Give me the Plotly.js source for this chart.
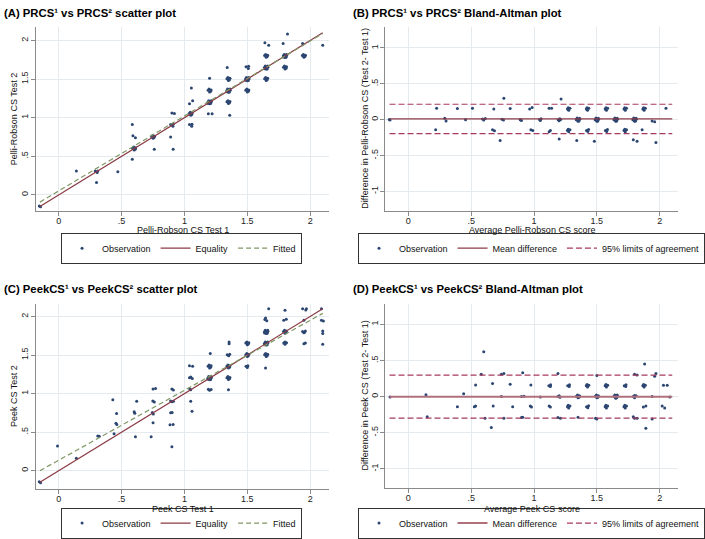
<!DOCTYPE html>
<html>
<head>
<meta charset="utf-8">
<script src="https://cdn.plot.ly/plotly-3.0.1.min.js"></script>
<style>
html, body { margin: 0; padding: 0; background: #fff; }
#chart { width: 705px; height: 539px; }
</style>
</head>
<body>
<div id="chart"></div>
<script>
// (A) Pelli-Robson: [test 1, test 2] per eye, jittered as plotted
var prcsScatter = [
  [-0.155,-0.145],[-0.145,-0.155],[0.14,0.31],[0.29,0.31],[0.305,0.29],[0.31,0.31],[0.30,0.16],[0.47,0.30],
  [0.585,0.46],[0.588,0.605],[0.6,0.582],[0.612,0.61],[0.596,0.62],[0.608,0.592],[0.59,0.765],[0.61,0.74],
  [0.585,0.91],[0.76,0.59],[0.738,0.755],[0.75,0.732],[0.762,0.76],[0.746,0.77],[0.758,0.742],
  [0.91,0.59],[0.89,0.75],[0.89,0.91],[0.908,0.888],[0.91,0.915],[0.90,1.06],[0.92,1.055],
  [1.04,0.91],[1.058,0.888],[1.06,0.915],[1.038,1.055],[1.05,1.032],[1.062,1.06],[1.046,1.07],[1.058,1.042],
  [1.065,1.22],[1.04,1.18],[1.055,1.385],[1.19,1.05],[1.22,1.05],
  [1.186,1.2],[1.2,1.18],[1.214,1.205],[1.193,1.22],[1.208,1.182],[1.2,1.208],[1.188,1.185],[1.212,1.22],
  [1.188,1.355],[1.2,1.332],[1.212,1.36],[1.196,1.37],[1.208,1.342],[1.2,1.51],[1.36,1.03],
  [1.338,1.205],[1.35,1.182],[1.362,1.21],[1.346,1.22],[1.358,1.192],
  [1.336,1.35],[1.35,1.33],[1.364,1.355],[1.343,1.37],[1.358,1.332],[1.35,1.358],[1.338,1.335],[1.362,1.37],
  [1.338,1.505],[1.35,1.482],[1.362,1.51],[1.346,1.52],[1.358,1.492],[1.34,1.65],
  [1.488,1.355],[1.5,1.332],[1.512,1.36],[1.496,1.37],[1.508,1.342],
  [1.486,1.5],[1.5,1.48],[1.514,1.505],[1.493,1.52],[1.508,1.482],[1.5,1.508],[1.488,1.485],[1.512,1.52],
  [1.49,1.66],[1.508,1.638],[1.51,1.665],
  [1.638,1.505],[1.65,1.482],[1.662,1.51],[1.646,1.52],[1.658,1.492],
  [1.636,1.65],[1.65,1.63],[1.664,1.655],[1.643,1.67],[1.658,1.632],[1.65,1.658],[1.638,1.635],[1.662,1.67],
  [1.638,1.805],[1.65,1.782],[1.662,1.81],[1.646,1.82],[1.658,1.792],[1.64,1.97],[1.67,1.94],
  [1.788,1.655],[1.8,1.632],[1.812,1.66],[1.796,1.67],[1.808,1.642],
  [1.786,1.8],[1.8,1.78],[1.814,1.805],[1.793,1.82],[1.808,1.782],[1.8,1.808],[1.788,1.785],[1.812,1.82],
  [1.785,1.96],[1.82,2.085],[1.938,1.805],[1.95,1.782],[1.962,1.81],[1.946,1.82],[1.958,1.792],
  [1.94,1.96],[2.10,1.94]
];
// (B) Pelli-Robson: [average, difference]
var prcsBland = [
  [-0.146,-0.005],[-0.152,0.004],[0.29,0.02],[0.30,-0.02],[0.455,0.0],[0.59,0.01],[0.60,-0.005],[0.612,0.015],
  [0.745,0.005],[0.757,-0.006],[0.89,0.0],[0.9,-0.01],[1.044,0.002],[1.056,0.012],[1.05,-0.012],
  [1.192,0.0],[1.205,0.014],[1.2,-0.014],[1.212,0.002],
  [1.336,0],[1.35,-0.022],[1.364,0.005],[1.343,0.022],[1.358,-0.018],[1.35,0.006],[1.362,0.02],
  [1.486,0],[1.5,-0.022],[1.514,0.005],[1.493,0.022],[1.508,-0.018],[1.5,0.006],[1.512,0.02],
  [1.636,0],[1.65,-0.022],[1.664,0.005],[1.643,0.022],[1.658,-0.018],[1.65,0.006],[1.662,0.02],
  [1.786,0],[1.8,-0.022],[1.814,0.005],[1.793,0.022],[1.808,-0.018],[1.8,0.006],[1.812,0.02],
  [1.94,-0.02],[1.96,-0.03],
  [0.225,0.16],[0.39,0.155],[0.51,0.16],[0.68,0.15],[0.81,0.155],[0.965,0.15],[0.985,0.17],[1.12,0.16],[1.14,0.16],
  [1.266,0.15],[1.276,0.132],[1.286,0.158],[1.272,0.168],[1.416,0.15],[1.426,0.132],[1.436,0.158],[1.422,0.168],
  [1.566,0.15],[1.576,0.132],[1.586,0.158],[1.572,0.168],[1.716,0.15],[1.726,0.132],[1.736,0.158],[1.722,0.168],
  [1.866,0.15],[1.876,0.132],[1.886,0.158],[1.872,0.168],[2.05,0.16],
  [0.217,-0.14],[0.67,-0.14],[0.685,-0.155],[0.975,-0.14],[0.99,-0.15],[1.12,-0.17],[1.13,-0.15],
  [1.266,-0.15],[1.276,-0.168],[1.286,-0.142],[1.272,-0.132],[1.418,-0.15],[1.428,-0.165],[1.434,-0.138],
  [1.568,-0.15],[1.578,-0.165],[1.584,-0.138],[1.716,-0.15],[1.726,-0.168],[1.736,-0.142],[1.722,-0.132],
  [1.86,-0.14],
  [0.76,0.30],[1.215,0.29],[0.73,-0.29],[1.20,-0.27],[1.34,-0.29],[1.48,-0.30],[1.79,-0.28],[1.82,-0.30],[1.97,-0.32]
];
// (C) Peek: [test 1, test 2]
var peekScatter = [
  [-0.155,-0.145],[-0.145,-0.155],[-0.01,0.32],[0.14,0.16],[0.31,0.45],[0.322,0.445],[0.44,0.48],
  [0.455,0.615],[0.462,0.6],[0.46,0.74],[0.43,0.92],[0.61,0.44],[0.60,0.765],[0.605,0.745],[0.62,0.90],
  [0.735,0.44],[0.75,0.62],[0.745,0.755],[0.752,0.735],[0.748,0.905],[0.76,0.89],[0.75,1.06],[0.77,1.065],
  [0.9,0.31],[0.885,0.595],[0.91,0.6],[0.89,0.75],[0.902,0.755],[0.89,0.905],[0.9,0.895],[0.912,0.9],
  [0.9,1.06],[0.912,1.045],[1.06,0.77],[1.05,0.9],[1.05,1.05],[1.042,1.058],
  [1.04,1.205],[1.05,1.215],[1.062,1.195],[1.04,1.36],[1.065,1.355],[1.19,1.055],[1.2,1.042],[1.212,1.052],
  [1.186,1.2],[1.2,1.18],[1.214,1.205],[1.193,1.22],[1.208,1.182],[1.2,1.208],[1.188,1.185],[1.212,1.22],
  [1.188,1.355],[1.2,1.332],[1.212,1.36],[1.196,1.37],[1.208,1.342],[1.205,1.52],[1.35,1.05],
  [1.338,1.205],[1.35,1.182],[1.362,1.21],[1.346,1.22],[1.358,1.192],
  [1.338,1.355],[1.35,1.332],[1.362,1.36],[1.346,1.37],[1.358,1.342],[1.35,1.35],
  [1.34,1.505],[1.352,1.49],[1.36,1.51],[1.355,1.67],[1.355,1.645],[1.49,1.355],[1.505,1.362],[1.5,1.338],
  [1.488,1.505],[1.5,1.482],[1.512,1.51],[1.496,1.52],[1.508,1.492],
  [1.488,1.655],[1.5,1.632],[1.512,1.66],[1.496,1.67],[1.508,1.642],[1.645,1.33],
  [1.638,1.505],[1.65,1.482],[1.662,1.51],[1.646,1.52],[1.658,1.492],
  [1.636,1.65],[1.65,1.63],[1.664,1.655],[1.643,1.67],[1.658,1.632],[1.65,1.658],[1.638,1.635],[1.662,1.67],
  [1.636,1.8],[1.65,1.78],[1.664,1.805],[1.643,1.82],[1.658,1.782],[1.65,1.808],[1.638,1.785],[1.662,1.82],
  [1.64,1.96],[1.655,1.945],[1.645,1.98],[1.67,2.1],
  [1.79,1.655],[1.8,1.638],[1.812,1.66],[1.8,1.668],
  [1.788,1.805],[1.8,1.782],[1.812,1.81],[1.796,1.82],[1.808,1.792],[1.79,1.95],[1.81,1.965],[1.80,2.08],
  [1.95,1.645],[1.962,1.655],[1.94,1.805],[1.95,1.788],[1.962,1.812],[1.955,1.795],[1.95,1.95],
  [1.94,2.10],[1.97,2.10],[1.965,2.085],[2.1,1.64],[2.1,1.81],[2.1,1.78],[2.09,1.95],[2.105,1.94],[2.09,2.1]
];
// (D) Peek: [average, difference]
var peekBland = [
  [-0.146,-0.005],[0.14,0.025],[0.44,0.04],[0.74,0.0],[0.90,0.0],[0.92,0.005],[1.05,-0.005],
  [1.19,0.0],[1.2,0.012],[1.206,-0.01],
  [1.338,0.005],[1.35,-0.018],[1.362,0.01],[1.346,0.02],[1.358,-0.008],
  [1.488,0.005],[1.5,-0.018],[1.512,0.01],[1.496,0.02],[1.508,-0.008],
  [1.636,0],[1.65,-0.022],[1.664,0.005],[1.643,0.022],[1.658,-0.018],[1.65,0.006],[1.662,0.02],
  [1.79,0.0],[1.8,-0.015],[1.812,0.01],[1.8,0.016],[1.94,0.0],[2.08,-0.005],
  [0.535,0.16],[0.67,0.18],[0.81,0.17],[0.975,0.16],[1.118,0.15],[1.13,0.138],[1.132,0.162],
  [1.268,0.15],[1.28,0.138],[1.282,0.162],[1.416,0.15],[1.426,0.132],[1.436,0.158],[1.422,0.168],
  [1.566,0.15],[1.576,0.132],[1.586,0.158],[1.572,0.168],[1.718,0.15],[1.73,0.138],[1.732,0.162],
  [1.866,0.15],[1.876,0.132],[1.886,0.158],[1.872,0.168],[2.03,0.155],[2.06,0.155],
  [0.39,-0.14],[0.525,-0.14],[0.535,-0.13],[0.675,-0.13],[0.83,-0.14],[0.97,-0.13],[0.98,-0.145],[1.12,-0.13],[1.13,-0.145],
  [1.266,-0.14],[1.276,-0.158],[1.286,-0.132],[1.272,-0.122],[1.418,-0.14],[1.428,-0.155],[1.434,-0.128],
  [1.566,-0.14],[1.576,-0.158],[1.586,-0.132],[1.572,-0.122],[1.716,-0.14],[1.726,-0.158],[1.736,-0.132],[1.722,-0.122],
  [1.87,-0.145],[1.89,-0.13],[2.02,-0.13],[2.04,-0.16],
  [0.58,0.31],[0.74,0.31],[0.76,0.32],[0.91,0.33],[1.19,0.32],[1.50,0.29],[1.80,0.31],[1.82,0.30],[1.96,0.28],[1.97,0.32],
  [0.15,-0.28],[0.61,-0.30],[0.76,-0.30],[0.90,-0.29],[0.91,-0.285],[1.19,-0.29],[1.21,-0.30],[1.35,-0.285],
  [1.49,-0.30],[1.50,-0.31],[1.79,-0.28],[1.80,-0.30],[1.82,-0.30],[1.94,-0.31],
  [0.60,0.62],[1.88,0.45],[0.66,-0.43],[1.89,-0.44]
];

// reference lines
var lineEnds = [-0.15, 2.1];
var prcsFitted = [-0.095, 2.09];
var peekFitted = [0.0, 2.04];
var prcsMeanDiff = 0.01, prcsLimits = [0.215, -0.195];
var peekMeanDiff = -0.002, peekLimits = [0.296, -0.300];

var scoreTicks = [0, 0.5, 1, 1.5, 2];
var scoreTickText = ['0', '.5', '1', '1.5', '2'];
var diffTicks = [-1, -0.5, 0, 0.5, 1];
var diffTickText = ['-1', '-.5', '0', '.5', '1'];

var navy = '#2b4671';
var maroon = '#8c3a46';
var green = '#7f9763';
var cranberry = '#a83a5e';
var font = 'Liberation Sans, Arial, sans-serif';

function obs(pairs, xa, ya, leg) {
  return {x: pairs.map(p => p[0]), y: pairs.map(p => p[1]), xaxis: xa, yaxis: ya, legend: leg,
    type: 'scatter', mode: 'markers', name: 'Observation',
    marker: {color: navy, size: 3}};
}
function line(xs, ys, xa, ya, leg, name, color, dash, width) {
  return {x: xs, y: ys, xaxis: xa, yaxis: ya, legend: leg, type: 'scatter', mode: 'lines', name: name,
    line: {color: color, width: width || 1.2, dash: dash || 'solid'}};
}
function limits(lim, xa, ya, leg) {
  return line([lineEnds[0], lineEnds[1], null, lineEnds[0], lineEnds[1]],
              [lim[0], lim[0], null, lim[1], lim[1]], xa, ya, leg,
              '95% limits of agreement', cranberry, '6px,3px');
}

var data = [
  obs(prcsScatter, 'x', 'y', 'legend'),
  line(lineEnds, lineEnds, 'x', 'y', 'legend', 'Equality', maroon),
  line(lineEnds, prcsFitted, 'x', 'y', 'legend', 'Fitted', green, '5px,3px'),

  obs(prcsBland, 'x2', 'y2', 'legend2'),
  line(lineEnds, [prcsMeanDiff, prcsMeanDiff], 'x2', 'y2', 'legend2', 'Mean difference', maroon),
  limits(prcsLimits, 'x2', 'y2', 'legend2'),

  obs(peekScatter, 'x3', 'y3', 'legend3'),
  line(lineEnds, lineEnds, 'x3', 'y3', 'legend3', 'Equality', maroon),
  line(lineEnds, peekFitted, 'x3', 'y3', 'legend3', 'Fitted', green, '5px,3px'),

  obs(peekBland, 'x4', 'y4', 'legend4'),
  line(lineEnds, [peekMeanDiff, peekMeanDiff], 'x4', 'y4', 'legend4', 'Mean difference', '#b0707c', 'solid', 2),
  limits(peekLimits, 'x4', 'y4', 'legend4')
];

var W = 705, H = 539;
function px(v) { return v / W; }
function py(v) { return 1 - v / H; }

function axis(dom, range, anchor, ticks, text, isY) {
  return {domain: dom, range: range, anchor: anchor, tickmode: 'array', tickvals: ticks, ticktext: text,
    showline: true, linecolor: '#8a8a8a', linewidth: 1, ticks: 'outside', ticklen: 4, tickcolor: '#8a8a8a',
    showgrid: true, gridcolor: '#e4eaee', gridwidth: 1, zeroline: false, automargin: false,
    tickangle: isY ? -90 : 0, ticklabelstandoff: isY ? -1 : -2,
    tickfont: {size: 9, color: '#222'}, fixedrange: true};
}

function legendAt(cx, cy) {
  return {x: px(cx), y: py(cy), xanchor: 'center', yanchor: 'middle', orientation: 'h',
    bordercolor: '#333', borderwidth: 1, bgcolor: '#fff', font: {size: 9, color: '#111'},
    itemwidth: 30, tracegroupgap: 0};
}

function note(text, x, y, opts) {
  return Object.assign({text: text, x: px(x), y: py(y), xref: 'paper', yref: 'paper',
    showarrow: false, xanchor: 'center', yanchor: 'middle', font: {size: 9, color: '#111'}}, opts || {});
}

var leftX = [px(37), px(342)], rightX = [px(400), px(704)];
var topY = [py(213), py(27)], botY = [py(494), py(307)], botY2 = [py(493), py(307)];
var titleFont = {size: 11.3, color: '#000'};

var layout = {
  width: W, height: H,
  margin: {l: 0, r: 0, t: 0, b: 0},
  paper_bgcolor: '#fff', plot_bgcolor: '#fff',
  font: {family: font, color: '#111'},
  showlegend: true,
  xaxis: axis(leftX, [-0.184, 2.153], 'y', scoreTicks, scoreTickText),
  yaxis: axis(topY, [-0.205, 2.179], 'x', scoreTicks, scoreTickText, true),
  xaxis2: axis(rightX, [-0.184, 2.146], 'y2', scoreTicks, scoreTickText),
  yaxis2: axis(topY, [-1.269, 1.297], 'x2', diffTicks, diffTickText, true),
  xaxis3: axis(leftX, [-0.184, 2.153], 'y3', scoreTicks, scoreTickText),
  yaxis3: axis(botY, [-0.231, 2.167], 'x3', scoreTicks, scoreTickText, true),
  xaxis4: axis(rightX, [-0.184, 2.146], 'y4', scoreTicks, scoreTickText),
  yaxis4: axis(botY2, [-1.26, 1.288], 'x4', diffTicks, diffTickText, true),
  legend: legendAt(188.5, 251),
  legend2: legendAt(552, 251),
  legend3: legendAt(188.5, 529),
  legend4: legendAt(552, 529),
  annotations: [
    note('<b>(A) PRCS¹ vs PRCS² scatter plot</b>', 2, 13, {xanchor: 'left', font: titleFont}),
    note('<b>(B) PRCS¹ vs PRCS² Bland-Altman plot</b>', 364, 13, {xanchor: 'left', font: titleFont}),
    note('<b>(C) PeekCS¹ vs PeekCS² scatter plot</b>', 2, 292, {xanchor: 'left', font: titleFont}),
    note('<b>(D) PeekCS¹ vs PeekCS² Bland-Altman plot</b>', 364, 292, {xanchor: 'left', font: titleFont}),
    note('Pelli-Robson CS Test 1', 189.5, 233),
    note('Average Pelli-Robson CS score', 552, 233),
    note('Peek CS Test 1', 189.5, 514.5),
    note('Average Peek CS score', 552, 514.5),
    note('Pelli-Robson CS Test 2', 14, 120, {textangle: -90}),
    note('Difference in Pelli-Robson CS (Test 2- Test 1)', 379, 120, {textangle: -90}),
    note('Peek CS Test 2', 14, 400, {textangle: -90}),
    note('Difference in Peek CS (Test 2- Test 1)', 379, 400, {textangle: -90})
  ]
};

Plotly.newPlot('chart', data, layout, {displayModeBar: false, staticPlot: true});
</script>
</body>
</html>
